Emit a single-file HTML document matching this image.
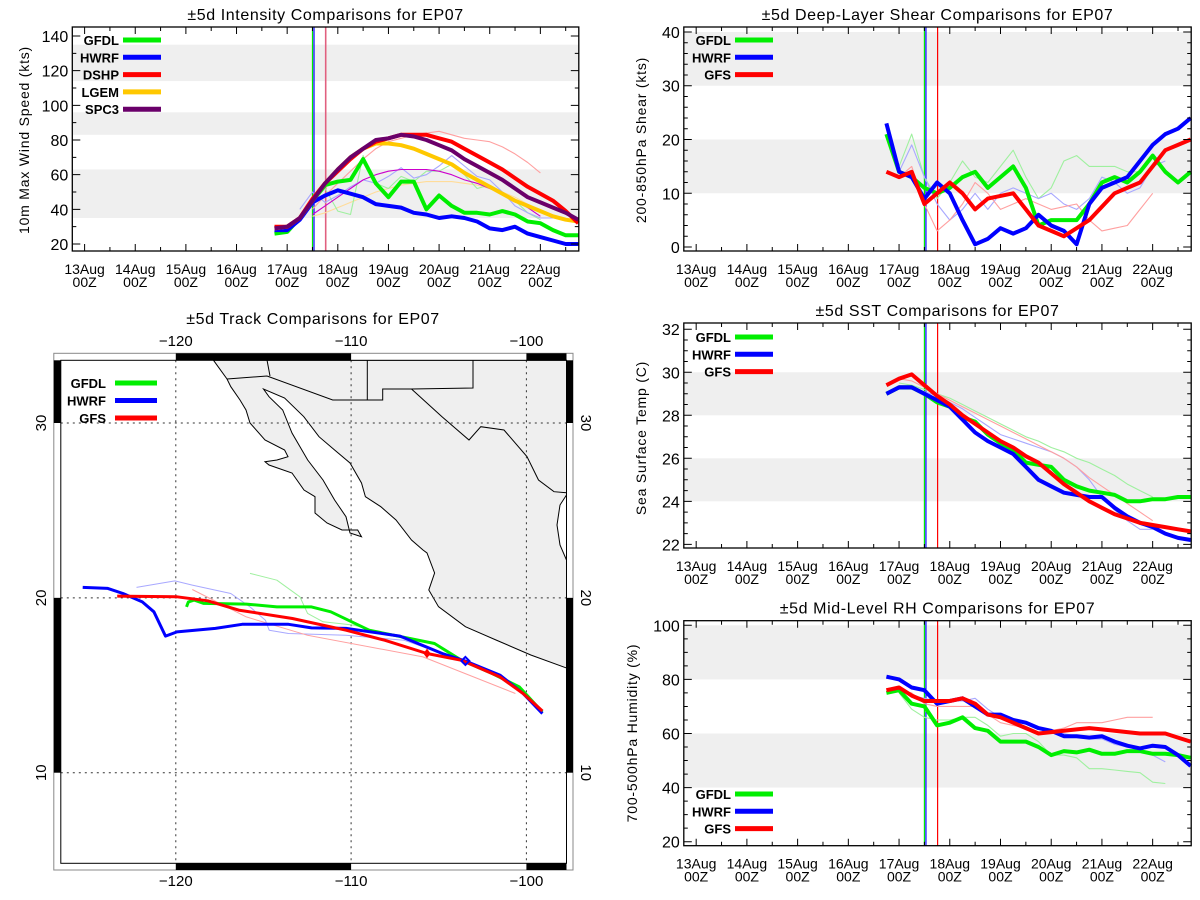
<!DOCTYPE html>
<html><head><meta charset="utf-8"><title>EP07 Comparisons</title>
<style>
html,body{margin:0;padding:0;background:#fff;width:1200px;height:900px;overflow:hidden}
svg{display:block;font-family:"Liberation Sans",sans-serif}
</style></head>
<body>
<svg id="fig" width="1200" height="900" viewBox="0 0 1200 900"></svg>
<script>
// ---------- DATA ----------
const dayLabels = ["13Aug","14Aug","15Aug","16Aug","17Aug","18Aug","19Aug","20Aug","21Aug","22Aug"];
const hourLabel = "00Z";
const runStart = 3.75, runStep = 0.25;
const initLines = [4.5, 4.53, 4.76];

// Intensity (kts)
const intNames = ["GFDL","HWRF","DSHP","LGEM","SPC3"];
const intGFDL = [26,27,35,45,54,56,57,69,55,47,56,56,40,48,42,38,38,37,39,37,33,32,28,25,25];
const intHWRF = [28,28,34,44,48,51,49,47,43,42,41,38,37,35,36,35,33,29,28,30,26,24,22,20,20];
const intDSHP = [30,30,35,46,55,62,69,75,79,81,83,83,83,81,79,75,71,67,63,58,53,49,45,39,32];
const intLGEM = [29,30,35,45,55,63,70,75,78,78,77,75,72,69,66,61,57,53,49,45,42,39,36,34,33];
const intSPC3 = [29,30,35,45,55,63,70,75,80,81,83,82,80,77,74,69,65,61,57,52,47,44,41,38,34];
const intPrevStart = 4.5;
const intPrevDSHP = [40,48,55,62,69,75,79,81,83,84,85,83,81,80,79,76,72,67,61];
const intPrevLGEM = [36,38,41,44,47,50,52,54,55,56,56,56,55,54,52,50,47,43,39,36];
const intPrevSPC3 = [37,42,47,52,57,60,62,63,63,63,62,60,57,55,52,49,45,41,36];
const intPrevGFDL = [44,52,39,37,71,55,52,59,56,62,62,66,60,52,54,50,45,38,34];
const intPrevHWRFStart = 4.25;
const intPrevHWRF = [40,50,44,48,53,57,55,59,64,58,60,65,71,65,59,57,50,42,38,35,35];

// Shear (kts)
const shrGFDL = [21,14,13,11,10,11,13,14,11,13,15,11,4,5,5,5,8,12,13,12,14,17,14,12,14];
const shrHWRF = [23,14,13,9,12,10,5,0.5,1.5,3.5,2.5,3.5,6,4,3,0.5,8,11,12,13,16,19,21,22,24];
const shrGFS  = [14,13,14,8,10,12,10,7,9,9.5,10,7,4,3,2,3.5,5,7.5,10,11,12,15,18,19,20];
const prevStart = 4.0;
const shrPrevGFDL = [15,21,13,9,12,16,13,12,15,18,13,9,11,16,17,15,15,15,14,14];
const shrPrevHWRF = [14,19,13,8,5,7,10,7,10,11,10,9,10,8,7,9,13,12,10,11,15,16];
const shrPrevGFS  = [13,15,8,3,5,8,12,10,7,8,9,8,7,7.5,8,5,3,3.5,4,7,10];

// SST (C)
const sstGFDL = [29.0,29.3,29.3,29.0,28.6,28.4,27.9,27.7,27.1,26.7,26.4,25.8,25.7,25.6,25.0,24.7,24.5,24.4,24.3,24.0,24.0,24.1,24.1,24.2,24.2];
const sstHWRF = [29.0,29.3,29.3,29.0,28.7,28.4,27.8,27.2,26.8,26.5,26.2,25.6,25.0,24.7,24.4,24.3,24.2,24.2,23.7,23.3,23.0,22.8,22.5,22.3,22.2];
const sstGFS  = [29.4,29.7,29.9,29.4,28.9,28.5,28.0,27.6,27.2,26.8,26.5,26.1,25.8,25.3,24.8,24.4,24.0,23.7,23.4,23.2,23.0,22.9,22.8,22.7,22.6];
const sstPrevGFDL = [29.5,29.4,29.2,29.0,28.8,28.5,28.2,27.9,27.6,27.3,27.0,26.8,26.5,26.3,26.0,25.8,25.5,25.2,24.8,24.5,24.2];
const sstPrevHWRF = [29.2,29.2,29.1,28.9,28.6,28.3,27.9,27.5,27.1,26.9,26.7,26.5,26.3,26.0,25.6,25.0,24.2,23.6,23.1,22.7,22.7];
const sstPrevGFS  = [29.7,29.6,29.3,29.0,28.7,28.4,28.1,27.8,27.5,27.2,26.9,26.6,26.3,26.0,25.6,25.1,24.7,24.3,23.9,23.5,23.1];

// RH (%)
const rhGFDL = [75,76,71,70,63,64,66,62,61,57,57,57,55,52,53.5,53,54,52.5,52.5,53.5,53.5,52.5,52.5,52,51];
const rhHWRF = [81,80,77,76,71,72,73,70,67,67,65,64,62,61,59,59,58.5,59,57,55.5,54.5,55.5,55,52,48];
const rhGFS  = [76,77,74,72,72,72,73,71,67,66,64,62,60,60.5,61,61.5,62,61.5,61,60.5,60,60,60,58.5,57];
const rhPrevGFDL = [75,69,66,65,65,66,66,63,59,60,60,57,52,52,51,47,47,46.5,46,45.5,42,41.5];
const rhPrevHWRF = [77,74,73,72,72,72,73,69,66,65,64,62,61,60,59,58,58,56,55,54,52,49.5];
const rhPrevGFS  = [76,75,71,70,70,70,70,67,64,63,62,60,61,62,64,64,64,65,66,66,66];

// Tracks (lon, lat)
const trkHWRFlon = [-125.31,-123.88,-123.01,-121.91,-121.25,-120.59,-119.93,-117.74,-116.21,-113.57,-112.26,-110.29,-107.21,-104.80,-103.48,-101.51,-100.19,-99.09];
const trkHWRFlat = [20.60,20.54,20.25,19.77,19.20,17.81,18.05,18.25,18.49,18.49,18.28,18.25,17.81,16.82,16.39,15.58,14.53,13.38];
const trkGFSlon = [-123.34,-119.93,-118.18,-116.42,-113.35,-110.29,-108.09,-105.67,-103.70,-101.51,-100.19,-99.09];
const trkGFSlat = [20.10,20.06,19.83,19.30,18.82,18.15,17.58,16.82,16.43,15.48,14.53,13.53];
const trkGFDLlon = [-119.39,-119.28,-118.95,-118.40,-115.98,-114.23,-112.26,-111.16,-108.97,-105.24,-103.70,-101.94,-100.41,-99.09];
const trkGFDLlat = [19.48,19.77,19.87,19.68,19.64,19.48,19.48,19.20,18.15,17.39,16.43,15.67,14.91,13.47];
const trkPrevHWRFlon = [-122.24,-120.05,-119.06,-116.86,-115.77,-114.89,-114.67,-113.57,-110.29,-106.99,-104.80];
const trkPrevHWRFlat = [20.60,20.97,20.73,20.25,19.48,18.72,18.15,17.96,17.86,17.58,16.82];
const trkPrevGFDLlon = [-115.77,-114.23,-112.92,-112.48,-111.60,-109.85,-106.99,-104.80];
const trkPrevGFDLlat = [21.40,21.01,20.06,19.11,18.63,18.44,17.68,16.82];
const trkPrevGFSlon = [-119.06,-115.98,-112.48,-105.90,-100.63];
const trkPrevGFSlat = [20.48,18.91,17.86,16.62,14.53];
const lonTicks = [-120,-110,-100];
const latTicks = [10,20,30];

// ---------- HELPERS ----------
const NS = "http://www.w3.org/2000/svg";
const svg = document.getElementById("fig");
function mk(tag, attrs, parent) {
  const e = document.createElementNS(NS, tag);
  for (const k in attrs) e.setAttribute(k, attrs[k]);
  (parent || svg).appendChild(e);
  return e;
}
function txt(s, x, y, size, anchor, parent, extra) {
  const t = mk("text", Object.assign({x:x, y:y, "font-size":size, "text-anchor":anchor||"middle", fill:"#000"}, extra||{}), parent);
  t.textContent = s;
  return t;
}
const C = {green:"#00ee00", blue:"#0000ff", red:"#ff0000", orange:"#ffc800", purple:"#6a006a",
  lgreen:"#9ff09f", lblue:"#a8a8ff", lred:"#ffa0a0", lorange:"#ffdc9a", magenta:"#cc00cc"};

function panel(name, cfg) {
  const g = mk("g", {});
  
  
  const sx = d => cfg.x0 + (d - cfg.dMin) / (cfg.dMax - cfg.dMin) * (cfg.x1 - cfg.x0);
  const sy = v => cfg.y1 - (v - cfg.vMin) / (cfg.vMax - cfg.vMin) * (cfg.y1 - cfg.y0);
  cfg.bands.forEach(b => {
    const r = mk("rect", {x:cfg.x0, y:sy(Math.min(b[1], cfg.vMax)), width:cfg.x1-cfg.x0, height:sy(b[0])-sy(Math.min(b[1], cfg.vMax)), fill:"#efefef"}, g);
    
    
  });
  const il = [[initLines[0], C.green],[initLines[1], C.blue],[initLines[2], C.red]];
  il.forEach(l => {
    const ln = mk("line", {x1:sx(l[0]), x2:sx(l[0]), y1:cfg.y0, y2:cfg.y1, stroke:l[1], "stroke-width":1.2}, g);
    
    
  });
  if (cfg.extraInit) {
    const ln = mk("line", {x1:sx(cfg.extraInit), x2:sx(cfg.extraInit), y1:cfg.y0, y2:cfg.y1, stroke:"#e06080", "stroke-width":1.5}, g);
    
    
  }
  function series(vals, start, color, w, nm) {
    const pts = vals.map((v, i) => sx(start + i * runStep).toFixed(1) + "," + sy(v).toFixed(1)).join(" ");
    const p = mk("polyline", {points:pts, fill:"none", stroke:color, "stroke-width":w, "stroke-linejoin":"round"}, g);
    
    
  }
  cfg.thin.forEach(s => series(s.v, s.start, s.c, 1.1, s.n));
  cfg.thick.forEach(s => series(s.v, runStart, s.c, 4, s.n));
  const fr = mk("rect", {x:cfg.x0, y:cfg.y0, width:cfg.x1-cfg.x0, height:cfg.y1-cfg.y0, fill:"none", stroke:"#000", "stroke-width":1.3}, g);
  
  
  let tk = "";
  for (let d = 0; d <= 9.75; d += 0.5) {
    const x = sx(d), L = (Math.abs(d - Math.round(d)) < 1e-6) ? 7 : 4;
    tk += `M${x},${cfg.y1}v${-L}M${x},${cfg.y0}v${L}`;
  }
  for (let v = cfg.tickStart; v <= cfg.vMax + 1e-6; v += cfg.minor) {
    const y = sy(v);
    const major = Math.abs(((v - cfg.tickStart) / cfg.major) - Math.round((v - cfg.tickStart) / cfg.major)) < 1e-6;
    const L = major ? 8 : 4;
    tk += `M${cfg.x0},${y}h${L}M${cfg.x1},${y}h${-L}`;
  }
  mk("path", {d:tk, stroke:"#000", "stroke-width":1, fill:"none"}, g);
  dayLabels.forEach((lab, i) => {
    const t1 = txt(lab, sx(i), cfg.y1 + 23, 14, "middle", g);
    
    
    const t2 = txt(hourLabel, sx(i), cfg.y1 + 36, 14, "middle", g);
    
    
  });
  for (let v = cfg.tickStart; v <= cfg.vMax + 1e-6; v += cfg.major) {
    const t = txt(String(v), cfg.x0 - 4, sy(v) + 6, 16, "end", g);
    
    
  }
  const tt = txt(cfg.title, (cfg.x0 + cfg.x1) / 2 + cfg.titleDx, cfg.y0 - 7, 16, "middle", g, {"letter-spacing":"0.6"});
  
  
  const yt = txt(cfg.ytitle, 0, 0, 14, "middle", g, {transform:`translate(${cfg.ytx},${cfg.yty}) rotate(-90)`, "letter-spacing":"0.8"});
  
  
  cfg.legend.forEach((l, i) => {
    const y = cfg.legY + i * 17.3;
    const t = txt(l[0], cfg.legLine - 4, y + 5, 13, "end", g, {"font-weight":"bold"});
    
    
    const ln = mk("line", {x1:cfg.legLine, x2:cfg.legLine + 38, y1:y, y2:y, stroke:l[1], "stroke-width":5}, g);
    
    
  });
}

const L3 = [["GFDL",C.green],["HWRF",C.blue],["GFS",C.red]];

panel("intensity", {x0:72.3,x1:578.8,y0:27,y1:251,dMin:-0.243,dMax:9.759,vMin:15.96,vMax:145.2,
  bands:[[35,63],[83,96],[114,135]], tickStart:20, major:20, minor:10, extraInit:4.76,
  title:"±5d Intensity Comparisons for EP07", titleDx:0, ytitle:"10m Max Wind Speed (kts)", ytx:29, yty:140,
  legLine:123, legY:40, legend:[["GFDL",C.green],["HWRF",C.blue],["DSHP",C.red],["LGEM",C.orange],["SPC3",C.purple]],
  thin:[{v:intPrevDSHP,start:intPrevStart,c:C.lred,n:"dshp-previous-line"},{v:intPrevLGEM,start:intPrevStart,c:C.lorange,n:"lgem-previous-line"},
        {v:intPrevGFDL,start:intPrevStart,c:C.lgreen,n:"gfdl-previous-line"},{v:intPrevHWRF,start:intPrevHWRFStart,c:C.lblue,n:"hwrf-previous-line"},
        {v:intPrevSPC3,start:intPrevStart,c:C.magenta,n:"spc3-previous-line"}],
  thick:[{v:intGFDL,c:C.green,n:"gfdl-intensity-line"},{v:intHWRF,c:C.blue,n:"hwrf-intensity-line"},{v:intLGEM,c:C.orange,n:"lgem-intensity-line"},
         {v:intDSHP,c:C.red,n:"dshp-intensity-line"},{v:intSPC3,c:C.purple,n:"spc3-intensity-line"}]});

panel("shear", {x0:683.8,x1:1191.2,y0:27,y1:251,dMin:-0.244,dMax:9.76,vMin:-0.744,vMax:40.93,
  bands:[[10,20],[30,40]], tickStart:0, major:10, minor:2,
  title:"±5d Deep-Layer Shear Comparisons for EP07", titleDx:0, ytitle:"200-850hPa Shear (kts)", ytx:646, yty:140,
  legLine:735, legY:40, legend:L3,
  thin:[{v:shrPrevGFDL,start:prevStart,c:C.lgreen,n:"gfdl-previous-line"},{v:shrPrevHWRF,start:prevStart,c:C.lblue,n:"hwrf-previous-line"},{v:shrPrevGFS,start:prevStart,c:C.lred,n:"gfs-previous-line"}],
  thick:[{v:shrGFDL,c:C.green,n:"gfdl-shear-line"},{v:shrHWRF,c:C.blue,n:"hwrf-shear-line"},{v:shrGFS,c:C.red,n:"gfs-shear-line"}]});

panel("sst", {x0:683.8,x1:1191.2,y0:323,y1:548,dMin:-0.244,dMax:9.76,vMin:21.83,vMax:32.29,
  bands:[[24,26],[28,30]], tickStart:22, major:2, minor:0.5,
  title:"±5d SST Comparisons for EP07", titleDx:0, ytitle:"Sea Surface Temp (C)", ytx:646, yty:438,
  legLine:735, legY:337, legend:L3,
  thin:[{v:sstPrevGFDL,start:prevStart,c:C.lgreen,n:"gfdl-previous-line"},{v:sstPrevHWRF,start:prevStart,c:C.lblue,n:"hwrf-previous-line"},{v:sstPrevGFS,start:prevStart,c:C.lred,n:"gfs-previous-line"}],
  thick:[{v:sstGFDL,c:C.green,n:"gfdl-sst-line"},{v:sstHWRF,c:C.blue,n:"hwrf-sst-line"},{v:sstGFS,c:C.red,n:"gfs-sst-line"}]});

panel("rh", {x0:683.8,x1:1191.2,y0:620.7,y1:845.7,dMin:-0.244,dMax:9.76,vMin:18.52,vMax:101.7,
  bands:[[40,60],[80,100]], tickStart:20, major:20, minor:5,
  title:"±5d Mid-Level RH Comparisons for EP07", titleDx:0, ytitle:"700-500hPa Humidity (%)", ytx:637, yty:733,
  legLine:735, legY:794, legend:L3,
  thin:[{v:rhPrevGFDL,start:prevStart,c:C.lgreen,n:"gfdl-previous-line"},{v:rhPrevHWRF,start:prevStart,c:C.lblue,n:"hwrf-previous-line"},{v:rhPrevGFS,start:prevStart,c:C.lred,n:"gfs-previous-line"}],
  thick:[{v:rhGFDL,c:C.green,n:"gfdl-rh-line"},{v:rhHWRF,c:C.blue,n:"hwrf-rh-line"},{v:rhGFS,c:C.red,n:"gfs-rh-line"}]});

// ---------- TRACK MAP ----------
(function(){
  const g = mk("g", {});
  
  
  const ix0 = 60.8, ix1 = 566.5, iy0 = 360.3, iy1 = 863.3;
  const ox0 = 53.8, ox1 = 573, oy0 = 353.3, oy1 = 870;
  const lx = lon => 175.8 + (lon + 120) * 17.53;
  const ly = lat => 772.7 - (lat - 10) * 17.485;
  const cp = mk("clipPath", {id:"mapclip"}, g);
  mk("rect", {x:ix0, y:iy0, width:ix1-ix0, height:iy1-iy0}, cp);
  const land = mk("g", {"clip-path":"url(#mapclip)"}, g);
  const landPts = "213.5,360.3 227,379 230.8,386.7 240,400 246,410 250,423 265,440 284.6,450 288,456.7 277,460 265,461.7 269,465 292,473 304,490 315,496.7 315,513 327,523 342,530 357.7,530 361.5,536.7 350,533 346,516.7 334.6,500 323,480 307.7,460 292,433 282.7,410 269,396.7 263.5,389 284.6,398 303.8,416.7 319,436.7 334.6,450 350,463 361.5,483 365.4,496.7 380.8,506.7 396,520 411.5,540 423,550 427,553 434.6,573 428.8,590 438.5,606.7 465.4,626.7 496,640 530.8,655 566.5,668 566.5,560 560,545 557,525 560,505 566.5,495 566.5,360.3";
  const lp = mk("polygon", {points:landPts, fill:"#efefef", stroke:"#000", "stroke-width":1}, land);
  
  
  const bd = mk("path", {d:"M227,379L267,376M267,360L270,376M267,376L332.7,400L367.3,400L382.7,400L382.7,389L411.5,389L473,388L473,360M367.3,360L367.3,400M411.5,389L442,416.7L469,440L480.8,426.7L504,430L527,456.7L538.5,480L554,491.7L566.5,492.7",
    fill:"none", stroke:"#000", "stroke-width":1}, land);
  
  
  let gd = "";
  lonTicks.forEach(l => gd += `M${lx(l)},${iy0}V${iy1}`);
  latTicks.forEach(l => gd += `M${ix0},${ly(l)}H${ix1}`);
  const gp = mk("path", {d:gd, stroke:"#333", "stroke-width":1, "stroke-dasharray":"2,4", fill:"none"}, g);
  
  
  const tg = mk("g", {"clip-path":"url(#mapclip)"}, g);
  function trk(lons, lats, color, w, nm) {
    const pts = lons.map((lo, i) => lx(lo).toFixed(1) + "," + ly(lats[i]).toFixed(1)).join(" ");
    const p = mk("polyline", {points:pts, fill:"none", stroke:color, "stroke-width":w, "stroke-linejoin":"round"}, tg);
    
    
  }
  trk(trkPrevHWRFlon, trkPrevHWRFlat, C.lblue, 1, "hwrf-previous-track");
  trk(trkPrevGFDLlon, trkPrevGFDLlat, C.lgreen, 1, "gfdl-previous-track");
  trk(trkPrevGFSlon, trkPrevGFSlat, C.lred, 1, "gfs-previous-track");
  trk(trkGFDLlon, trkGFDLlat, C.green, 3, "gfdl-track");
  trk(trkHWRFlon, trkHWRFlat, C.blue, 3, "hwrf-track");
  trk(trkGFSlon, trkGFSlat, C.red, 3, "gfs-track");
  const mx = lx(trkHWRFlon[14]), my = ly(trkHWRFlat[14]);
  const dm = mk("polygon", {points:`${mx},${my-4} ${mx+4},${my} ${mx},${my+4} ${mx-4},${my}`, fill:"none", stroke:C.blue, "stroke-width":2}, tg);
  
  
  const rx = lx(trkGFSlon[7]), ry = ly(trkGFSlat[7]);
  const rm = mk("polygon", {points:`${rx},${ry-4} ${rx+3},${ry} ${rx},${ry+4} ${rx-3},${ry}`, fill:C.red, stroke:C.red, "stroke-width":1}, tg);
  
  
  mk("rect", {x:ox0, y:oy0, width:ox1-ox0, height:oy1-oy0, fill:"none", stroke:"#888", "stroke-width":1}, g);
  mk("rect", {x:ix0, y:iy0, width:ix1-ix0, height:iy1-iy0, fill:"none", stroke:"#000", "stroke-width":1}, g);
  const bars = [[lx(-120), oy0, lx(-110)-lx(-120), iy0-oy0],[lx(-100), oy0, ix1-lx(-100), iy0-oy0],
                [lx(-120), iy1, lx(-110)-lx(-120), oy1-iy1],[lx(-100), iy1, ix1-lx(-100), oy1-iy1],
                [ox0, iy0, ix0-ox0, ly(30)-iy0],[ix1, iy0, ox1-ix1, ly(30)-iy0],
                [ox0, ly(20), ix0-ox0, ly(10)-ly(20)],[ix1, ly(20), ox1-ix1, ly(10)-ly(20)]];
  bars.forEach(b => {
    const r = mk("rect", {x:b[0], y:b[1], width:b[2], height:b[3], fill:"#000"}, g);
    
    
  });
  lonTicks.forEach(l => {
    const t1 = txt(String(l).replace("-", "\u2212"), lx(l), 346, 15, "middle", g);
    
    
    const t2 = txt(String(l).replace("-", "\u2212"), lx(l), 886, 15, "middle", g);
    
    
  });
  latTicks.forEach(l => {
    const t1 = txt(String(l), 0, 0, 15, "middle", g, {transform:`translate(${46},${ly(l)}) rotate(-90)`});
    
    
    const t2 = txt(String(l), 0, 0, 15, "middle", g, {transform:`translate(${581},${ly(l)}) rotate(90)`});
    
    
  });
  const tt = txt("±5d Track Comparisons for EP07", 313, 324, 16, "middle", g, {"letter-spacing":"0.6"});
  
  
  L3.forEach((l, i) => {
    const y = 383 + i * 17.5;
    const t = txt(l[0], 106, y + 5, 13, "end", g, {"font-weight":"bold"});
    
    
    const ln = mk("line", {x1:115, x2:157, y1:y, y2:y, stroke:l[1], "stroke-width":5}, g);
    
    
  });
})();
</script>
</body></html>
